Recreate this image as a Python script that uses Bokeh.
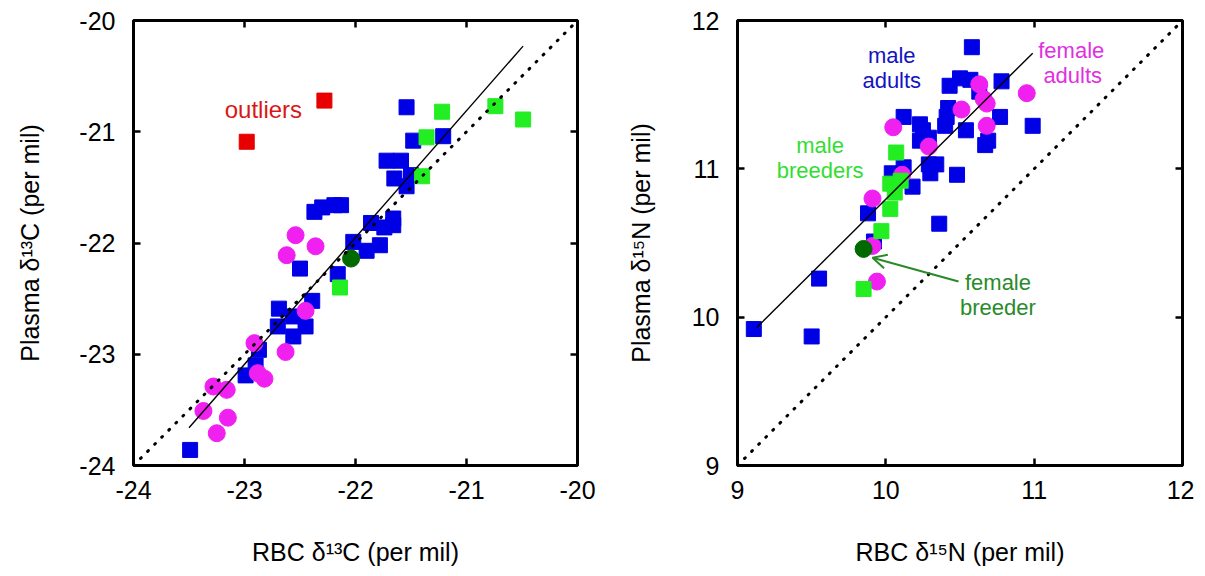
from bokeh.plotting import figure
from bokeh.models import Range1d, FixedTicker, LinearAxis, Label, Arrow, OpenHead
from bokeh.layouts import row
from bokeh.embed import file_html
from bokeh.resources import INLINE

# ---------------- Carbon (left panel) ----------------
c_male_adult_x = [-21.54, -21.48, -21.21, -21.72, -21.59, -21.65, -21.50, -21.54,
                  -22.37, -22.30, -22.19, -22.13, -21.86, -21.74, -21.66, -21.66,
                  -22.02, -21.90, -21.78, -22.50, -22.16, -22.39, -22.69, -22.56,
                  -22.45, -22.70, -22.56, -22.87, -22.90, -22.99, -23.49]
c_male_adult_y = [-20.78, -21.08, -21.04, -21.26, -21.26, -21.42, -21.39, -21.49,
                  -21.72, -21.68, -21.66, -21.66, -21.82, -21.86, -21.78, -21.84,
                  -21.99, -22.07, -22.02, -22.23, -22.28, -22.52, -22.59, -22.66,
                  -22.75, -22.75, -22.84, -22.96, -23.10, -23.19, -23.86]
c_female_adult_x = [-22.54, -22.36, -22.62, -22.45, -22.91, -22.63, -22.88, -22.82,
                    -23.28, -23.16, -23.37, -23.15, -23.25]
c_female_adult_y = [-21.93, -22.03, -22.11, -22.61, -22.90, -22.98, -23.17, -23.22,
                    -23.29, -23.32, -23.51, -23.57, -23.71]
c_male_breeder_x = [-21.22, -20.74, -20.49, -21.36, -21.40, -22.14]
c_male_breeder_y = [-20.82, -20.77, -20.89, -21.05, -21.40, -22.40]
c_female_breeder_x = [-22.04]
c_female_breeder_y = [-22.14]
c_outlier_x = [-22.98, -22.28]
c_outlier_y = [-21.09, -20.72]
c_fit_x = [-23.50, -20.49]
c_fit_y = [-23.66, -20.23]
c_identity = [-24, -20]
c_ticks = [-24, -23, -22, -21, -20]
c_tick_labels = ["-24", "-23", "-22", "-21", "-20"]

# ---------------- Nitrogen (right panel) ----------------
n_male_adult_x = [10.58, 10.43, 10.50, 10.57, 10.63, 10.78, 10.42, 10.41, 10.40, 10.54,
                  10.77, 10.99, 10.69, 10.67, 10.12, 10.23, 10.25, 10.29, 10.23, 10.29,
                  10.34, 10.30, 10.48, 10.12, 10.04, 10.18, 9.88, 10.36, 9.92, 9.55,
                  9.11, 9.50]
n_male_adult_y = [11.82, 11.56, 11.61, 11.60, 11.52, 11.59, 11.41, 11.35, 11.29, 11.26,
                  11.35, 11.29, 11.19, 11.16, 11.35, 11.30, 11.26, 11.21, 11.19, 11.03,
                  11.03, 10.97, 10.96, 11.01, 10.97, 10.88, 10.70, 10.63, 10.51, 10.26,
                  9.92, 9.87]
n_female_adult_x = [10.63, 10.95, 10.66, 10.68, 10.51, 10.68, 10.05, 10.29, 10.11, 9.91,
                    9.91, 9.94]
n_female_adult_y = [11.57, 11.51, 11.47, 11.44, 11.40, 11.29, 11.28, 11.15, 10.96, 10.80,
                    10.48, 10.24]
n_male_breeder_x = [10.07, 10.03, 10.10, 10.06, 10.03, 9.97, 9.85]
n_male_breeder_y = [11.11, 10.90, 10.92, 10.84, 10.73, 10.58, 10.19]
n_female_breeder_x = [9.85]
n_female_breeder_y = [10.46]
n_fit_x = [9.13, 10.99]
n_fit_y = [9.93, 11.78]
n_identity = [9, 12]
n_ticks = [9, 10, 11, 12]
n_tick_labels = ["9", "10", "11", "12"]

BLUE = "#0000E6"
MAGENTA = "#F020F0"
GREEN = "#22EE22"
DKGREEN = "#006A00"
RED = "#E80000"
FONT = "Liberation Sans"


def base_fig(xr, ticks, tick_labels, fw, mbl, mbr, xlabel, ylabel, ystand):
    p = figure(frame_width=fw, frame_height=445,
               x_range=Range1d(*xr), y_range=Range1d(*xr),
               output_backend="svg", toolbar_location=None,
               min_border_left=mbl, min_border_right=mbr,
               min_border_top=20, min_border_bottom=100,
               background_fill_color="white", border_fill_color="white")
    p.grid.visible = False
    p.outline_line_color = "black"
    p.outline_line_width = 3
    overrides = dict(zip(ticks, tick_labels))
    for ax in (p.xaxis[0], p.yaxis[0]):
        ax.ticker = FixedTicker(ticks=ticks)
        ax.major_label_overrides = overrides
        ax.axis_line_color = None
        ax.major_tick_in = 7
        ax.major_tick_out = 0
        ax.major_tick_line_width = 2.5
        ax.major_tick_line_color = "black"
        ax.minor_tick_line_color = None
        ax.major_label_text_font = FONT
        ax.major_label_text_font_size = "25px"
        ax.major_label_text_color = "black"
        ax.axis_label_text_font = FONT
        ax.axis_label_text_font_size = "25px"
        ax.axis_label_text_font_style = "normal"
        ax.axis_label_text_color = "black"
    p.xaxis[0].major_label_standoff = 15
    p.yaxis[0].major_label_standoff = 18
    p.xaxis[0].axis_label = xlabel
    p.xaxis[0].axis_label_standoff = 36
    p.yaxis[0].axis_label = ylabel
    p.yaxis[0].axis_label_standoff = ystand
    for loc in ("above", "right"):
        ax = LinearAxis(ticker=FixedTicker(ticks=ticks), axis_line_color=None,
                        major_tick_in=7, major_tick_out=0, major_tick_line_width=2.5,
                        minor_tick_line_color=None,
                        major_label_overrides={t: "" for t in ticks},
                        major_label_text_font_size="1px", major_label_standoff=0)
        p.add_layout(ax, loc)
    return p


def txt(p, x, y, s, color, size="22px"):
    p.add_layout(Label(x=x, y=y, text=s, text_color=color, text_font=FONT,
                       text_font_size=size, text_align="center",
                       text_baseline="middle"))


# ----- left -----
p1 = base_fig((-24, -20), c_ticks, c_tick_labels, 444, 133, 35,
              "RBC δ¹³C (per mil)", "Plasma δ¹³C (per mil)", 32)
p1.scatter(c_male_adult_x, c_male_adult_y, marker="square", size=15, color=BLUE)
p1.scatter(c_female_adult_x, c_female_adult_y, marker="circle", size=17, color=MAGENTA)
p1.scatter(c_male_breeder_x, c_male_breeder_y, marker="square", size=15, color=GREEN)
p1.scatter(c_female_breeder_x, c_female_breeder_y, marker="circle", size=17, color=DKGREEN)
p1.scatter(c_outlier_x, c_outlier_y, marker="square", size=15, color=RED)
p1.line(c_identity, c_identity, line_color="black", line_width=3,
        line_dash="1 9", line_cap="round")
p1.line(c_fit_x, c_fit_y, line_color="black", line_width=1.4)
txt(p1, -22.83, -20.80, "outliers", "#D81818", "24px")

# ----- right -----
p2 = base_fig((9, 12), n_ticks, n_tick_labels, 445, 125, 12,
              "RBC δ¹⁵N (per mil)", "Plasma δ¹⁵N (per mil)", 34)
p2.scatter(n_male_adult_x, n_male_adult_y, marker="square", size=15, color=BLUE)
p2.scatter(n_female_adult_x, n_female_adult_y, marker="circle", size=17, color=MAGENTA)
p2.scatter(n_male_breeder_x, n_male_breeder_y, marker="square", size=15, color=GREEN)
p2.scatter(n_female_breeder_x, n_female_breeder_y, marker="circle", size=17, color=DKGREEN)
p2.line(n_identity, n_identity, line_color="black", line_width=3,
        line_dash="1 9", line_cap="round")
p2.line(n_fit_x, n_fit_y, line_color="black", line_width=1.4)
p2.add_layout(Arrow(end=OpenHead(size=14, line_color="#2A8A2A", line_width=2),
                    x_start=10.49, y_start=10.24, x_end=9.91, y_end=10.40,
                    line_color="#2A8A2A", line_width=2))
txt(p2, 10.04, 11.764, "male", "#1414C0")
txt(p2, 10.04, 11.596, "adults", "#1414C0")
txt(p2, 11.25, 11.798, "female", "#E030E0")
txt(p2, 11.26, 11.630, "adults", "#E030E0")
txt(p2, 9.557, 11.158, "male", "#33DD33")
txt(p2, 9.557, 10.990, "breeders", "#33DD33")
txt(p2, 10.756, 10.231, "female", "#2A8A2A")
txt(p2, 10.756, 10.065, "breeder", "#2A8A2A")

layout = row(p1, p2)
open("out.html", "w").write(file_html(layout, INLINE))
